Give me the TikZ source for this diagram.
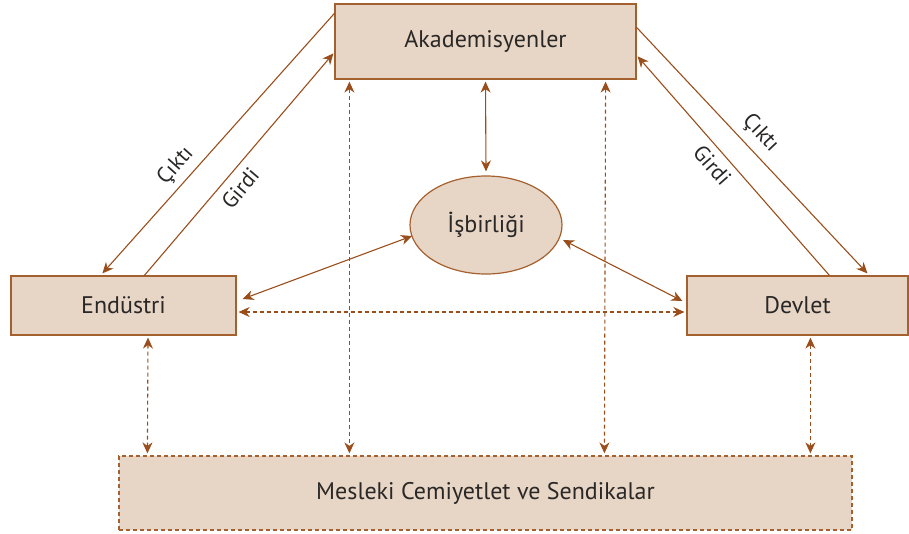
\documentclass[tikz,border=0pt]{standalone}
\usepackage{fontspec}
\setmainfont{PT Sans}
\usetikzlibrary{arrows.meta,calc,shapes.geometric}
\definecolor{boxfill}{HTML}{E7D5C5}
\definecolor{boxline}{HTML}{A5602F}
\definecolor{arr}{HTML}{9A4E1C}
\definecolor{txt}{HTML}{2A2827}
\tikzset{
  box/.style={draw=boxline, fill=boxfill, line width=1.2pt, inner sep=0pt, text=txt, font=\fontsize{24}{28}\selectfont},
  conn/.style={draw=arr, line width=1.1pt, -{Stealth[length=11pt,width=10pt,inset=3.5pt]}},
  both/.style={draw=arr, line width=1.1pt, {Stealth[length=11pt,width=10pt,inset=3.5pt]}-{Stealth[length=11pt,width=10pt,inset=3.5pt]}},
  dsh/.style={dash pattern=on 4pt off 3pt},
  lbl/.style={text=txt, font=\fontsize{22}{26}\selectfont, inner sep=0pt}
}
\begin{document}
\begin{tikzpicture}[x=1pt,y=-1pt]
\useasboundingbox (0,0) rectangle (909,533);
\node[box, minimum width=301pt, minimum height=75pt] (aka) at (485.5,41.5) {Akademisyenler};
\node[box, minimum width=225pt, minimum height=59pt] (end) at (123.5,305.5) {Endüstri};
\node[box, minimum width=221pt, minimum height=59pt] (dev) at (797.5,305.5) {Devlet};
\node[box, dsh, minimum width=733pt, minimum height=74pt] (mes) at (485.5,493) {Mesleki Cemiyetlet ve Sendikalar};
\node[box, ellipse, minimum width=152pt, minimum height=98pt] (isb) at (486,225) {İşbirliği};

% left Çıktı / Girdi
\draw[conn] ($(aka.north west)+(0,10)$) -- node[lbl, sloped, above=6pt, pos=0.63] {Çıktı} ($(end.north west)+(92,-2)$);
\draw[conn] ($(end.north west)+(134,0)$) -- node[lbl, sloped, below=8pt, pos=0.44] {Girdi} ($(aka.north west)+(-1,50)$);
% right Çıktı / Girdi
\draw[conn] ($(aka.north east)+(0,24)$) -- node[lbl, sloped, above=7pt, pos=0.48] {Çıktı} ($(dev.north west)+(181,-2)$);
\draw[conn] ($(dev.north west)+(143,0)$) -- node[lbl, sloped, below=7pt, pos=0.55] {Girdi} ($(aka.north east)+(1,53)$);

% İşbirliği links
\draw[both] ($(aka.south)+(0,2)$) -- ($(isb.north)+(0,-4)$);
\draw[both] ($(isb.center)+(-74,11)$) -- ($(end.east)+(6,-6.5)$);
\draw[both] ($(isb.center)+(77,15)$) -- ($(dev.west)+(-4,-4.5)$);

% dashed links
\draw[both, dsh] ($(end.east)+(2,6.5)$) -- ($(dev.west)+(-2,6.5)$);
\draw[both, dsh] ($(end.south)+(24.5,2)$) -- ($(mes.north west)+(29,-2)$);
\draw[both, dsh] ($(aka.south west)+(15,2)$) -- ($(mes.north west)+(231,-2)$);
\draw[both, dsh] ($(aka.south east)+(-31,2)$) -- ($(mes.north west)+(486,-2)$);
\draw[both, dsh] ($(dev.south west)+(124,2)$) -- ($(mes.north west)+(692,-2)$);
\end{tikzpicture}
\end{document}
